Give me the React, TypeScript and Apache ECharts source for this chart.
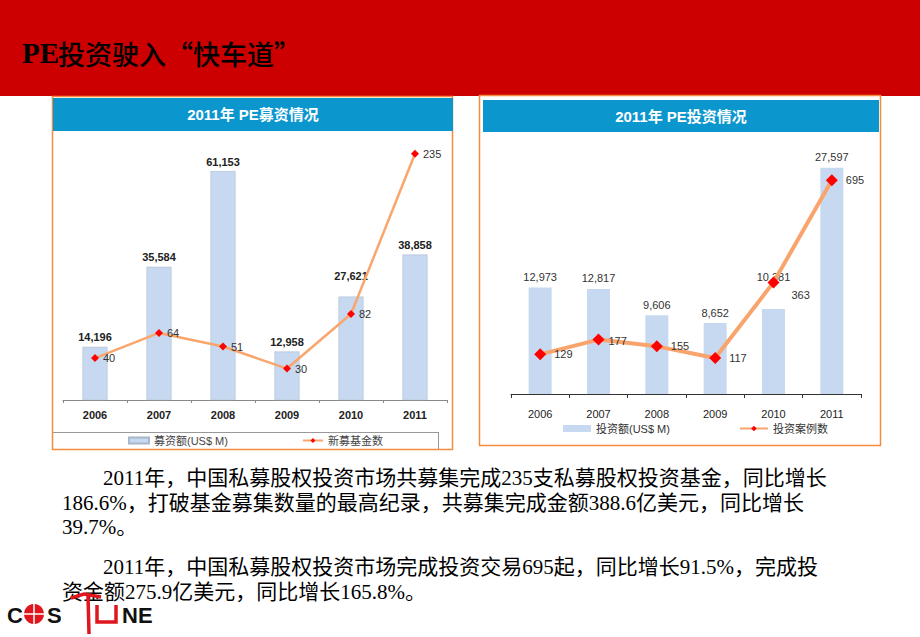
import React, { useEffect, useRef } from "react";
import * as echarts from "echarts";

const years = ["2006", "2007", "2008", "2009", "2010", "2011"];
const fundraisingAmount = [14196, 35584, 61153, 12958, 27621, 38858];
const newFunds = [40, 64, 51, 30, 82, 235];
const investmentAmount = [12973, 12817, 9606, 8652, 10381, 27597];
const investmentDeals = [129, 177, 155, 117, 363, 695];

const titleLatin = "PE";
const titleCJK = "投资驶入“快车道”";
const leftTitle = "2011年 PE募资情况";
const rightTitle = "2011年 PE投资情况";
const leftBarName = "募资额(US$ M)";
const leftLineName = "新募基金数";
const rightBarName = "投资额(US$ M)";
const rightLineName = "投资案例数";
const paragraph1 = [
  "2011年，中国私募股权投资市场共募集完成235支私募股权投资基金，同比增长",
  "186.6%，打破基金募集数量的最高纪录，共募集完成金额388.6亿美元，同比增长",
  "39.7%。",
];
const paragraph2 = [
  "2011年，中国私募股权投资市场完成投资交易695起，同比增长91.5%，完成投",
  "资金额275.9亿美元，同比增长165.8%。",
];

const fmt = (v: number) => v.toLocaleString("en-US");
const SANS = "Liberation Sans, Arial, Noto Sans CJK SC, sans-serif";
const SERIF = "Liberation Serif, Times New Roman, Noto Sans CJK SC, serif";
const CJK = "Noto Sans CJK SC, sans-serif";

export default function App() {
  const ref = useRef<HTMLDivElement>(null);
  useEffect(() => {
    if (!ref.current) return;
    const chart = echarts.init(ref.current, undefined, { renderer: "svg" });

    const paraGraphics: any[] = [];
    const p1y = [478, 503, 527];
    paragraph1.forEach((t, i) =>
      paraGraphics.push({
        type: "text",
        x: i === 0 ? 103 : 62,
        y: p1y[i],
        style: { text: t, font: `21px ${SERIF}`, fill: "#000", textVerticalAlign: "middle" },
      })
    );
    const p2y = [567, 592];
    paragraph2.forEach((t, i) =>
      paraGraphics.push({
        type: "text",
        x: i === 0 ? 103 : 62,
        y: p2y[i],
        style: { text: t, font: `21px ${SERIF}`, fill: "#000", textVerticalAlign: "middle" },
      })
    );

    const red = "#E0161E";
    const logoFont = `bold 22px ${SANS}`;
    const logo: any[] = [
      { type: "text", x: 7, y: 615, style: { text: "C", font: logoFont, fill: "#111", textVerticalAlign: "middle" } },
      { type: "circle", shape: { cx: 34, cy: 614, r: 10 }, style: { fill: red } },
      { type: "line", shape: { x1: 24, y1: 614, x2: 44, y2: 614 }, style: { stroke: "#fff", lineWidth: 1.5 } },
      { type: "line", shape: { x1: 34, y1: 604, x2: 34, y2: 624 }, style: { stroke: "#fff", lineWidth: 1.5 } },
      { type: "text", x: 47, y: 615, style: { text: "S", font: logoFont, fill: "#111", textVerticalAlign: "middle" } },
      { type: "polyline", shape: { points: [[71, 598], [84, 594], [101, 597]] }, style: { stroke: red, lineWidth: 3.5, fill: null } },
      { type: "line", shape: { x1: 88, y1: 596, x2: 89, y2: 634 }, style: { stroke: red, lineWidth: 3.5 } },
      { type: "polyline", shape: { points: [[97, 605], [97, 622], [116, 622], [116, 605]] }, style: { stroke: red, lineWidth: 3.5, fill: null } },
      { type: "text", x: 122, y: 615, style: { text: "NE", font: logoFont, fill: "#111", textVerticalAlign: "middle" } },
    ];

    const option: any = {
      animation: false,
      backgroundColor: "#fff",
      textStyle: { fontFamily: SANS },
      grid: [
        { left: 63, top: 138, width: 384, height: 262 },
        { left: 511, top: 148, width: 350, height: 246 },
      ],
      xAxis: [
        {
          type: "category",
          gridIndex: 0,
          data: years,
          axisLine: { lineStyle: { color: "#888", width: 1 } },
          axisTick: { show: true, length: 3, lineStyle: { color: "#888" } },
          axisLabel: { fontWeight: "bold", fontSize: 11, color: "#222", margin: 9, fontFamily: SANS },
        },
        {
          type: "category",
          gridIndex: 1,
          data: years,
          axisLine: { lineStyle: { color: "#333", width: 1 } },
          axisTick: { show: true, length: 4, lineStyle: { color: "#333" } },
          axisLabel: { fontSize: 11, color: "#222", margin: 14, fontFamily: SANS },
        },
      ],
      yAxis: [
        { type: "value", gridIndex: 0, min: 0, max: 70000, interval: 10000, show: false },
        { type: "value", gridIndex: 0, min: 0, max: 250, interval: 50, show: false },
        { type: "value", gridIndex: 1, min: 0, max: 30000, interval: 10000, show: false },
        { type: "value", gridIndex: 1, min: 0, max: 800, interval: 200, show: false },
      ],
      legend: [
        {
          left: 128,
          top: 435,
          padding: 0,
          itemGap: 74,
          itemWidth: 20,
          itemHeight: 6,
          textStyle: { fontSize: 11, color: "#444", fontFamily: SANS },
          data: [{ name: leftBarName, icon: "rect" }, { name: leftLineName }],
        },
        {
          left: 563,
          top: 423,
          padding: 0,
          itemGap: 69,
          itemWidth: 28,
          itemHeight: 7,
          textStyle: { fontSize: 11, color: "#333", fontFamily: SANS },
          data: [{ name: rightBarName, icon: "rect" }, { name: rightLineName }],
        },
      ],
      series: [
        {
          type: "bar",
          name: leftBarName,
          xAxisIndex: 0,
          yAxisIndex: 0,
          barWidth: 25,
          itemStyle: { color: "#C6D9F1", borderColor: "#AAB6CA", borderWidth: 0.5 },
          label: {
            show: true,
            position: "top",
            distance: 4,
            fontSize: 11,
            fontWeight: "bold",
            color: "#222",
            fontFamily: SANS,
            formatter: (p: any) => fmt(p.value),
          },
          data: fundraisingAmount.map((v, i) => (i === 4 ? { value: v, label: { offset: [0, -11] } } : v)),
        },
        {
          type: "line",
          name: leftLineName,
          xAxisIndex: 0,
          yAxisIndex: 1,
          symbol: "diamond",
          symbolSize: 8,
          lineStyle: { color: "#F9A56B", width: 2.5 },
          itemStyle: { color: "#FF0000" },
          label: { show: true, position: "right", distance: 4, fontSize: 11, color: "#333", fontFamily: SANS },
          data: newFunds,
          z: 3,
        },
        {
          type: "bar",
          name: rightBarName,
          xAxisIndex: 1,
          yAxisIndex: 2,
          barWidth: 23,
          itemStyle: { color: "#C6D9F1" },
          label: {
            show: true,
            position: "top",
            distance: 5,
            fontSize: 11,
            color: "#333",
            fontFamily: SANS,
            formatter: (p: any) => fmt(p.value),
          },
          data: investmentAmount.map((v, i) => (i === 4 ? { value: v, label: { offset: [0, -21] } } : v)),
        },
        {
          type: "line",
          name: rightLineName,
          xAxisIndex: 1,
          yAxisIndex: 3,
          symbol: "diamond",
          symbolSize: 12,
          lineStyle: { color: "#F9A46C", width: 4 },
          itemStyle: { color: "#FF0000" },
          label: { show: true, position: "right", distance: 8, fontSize: 11, color: "#333", fontFamily: SANS },
          data: investmentDeals.map((v, i) =>
            i === 4 ? { value: v, label: { offset: [4, 13] } } : i === 1 ? { value: v, label: { offset: [-4, 1] } } : v
          ),
          z: 3,
        },
      ],
      graphic: [
        { type: "rect", shape: { x: 0, y: 0, width: 920, height: 96 }, style: { fill: "#CC0000" }, z: -1 },
        {
          type: "text",
          x: 22,
          y: 53,
          style: { text: titleLatin, font: `bold 29px ${SERIF}`, fill: "#000", textVerticalAlign: "middle" },
        },
        {
          type: "text",
          x: 58,
          y: 53,
          style: { text: titleCJK, font: `500 27px ${CJK}`, fill: "#000", textVerticalAlign: "middle" },
        },
        { type: "rect", shape: { x: 52.5, y: 96.5, width: 400, height: 353 }, style: { fill: "none", stroke: "#F68B3F", lineWidth: 1.5 } },
        { type: "rect", shape: { x: 53, y: 98, width: 400, height: 33 }, style: { fill: "#0B96CE" } },
        {
          type: "text",
          x: 253,
          y: 114.5,
          style: { text: leftTitle, font: `bold 15px ${SANS}`, fill: "#fff", textAlign: "center", textVerticalAlign: "middle" },
        },
        { type: "line", shape: { x1: 53, y1: 432.5, x2: 438, y2: 432.5 }, style: { stroke: "#999", lineWidth: 1 } },
        { type: "line", shape: { x1: 438.5, y1: 432, x2: 438.5, y2: 449 }, style: { stroke: "#999", lineWidth: 1 } },
        { type: "rect", shape: { x: 479.5, y: 95.5, width: 401, height: 350 }, style: { fill: "none", stroke: "#F68B3F", lineWidth: 1.5 } },
        { type: "rect", shape: { x: 483, y: 100, width: 396, height: 32 }, style: { fill: "#0B96CE" } },
        {
          type: "text",
          x: 681,
          y: 116,
          style: { text: rightTitle, font: `bold 15px ${SANS}`, fill: "#fff", textAlign: "center", textVerticalAlign: "middle" },
        },
        ...paraGraphics,
        ...logo,
      ],
    };
    chart.setOption(option);
    return () => chart.dispose();
  }, []);
  return <div ref={ref} style={{ position: "absolute", left: 0, top: 0, width: 920, height: 637 }} />;
}
